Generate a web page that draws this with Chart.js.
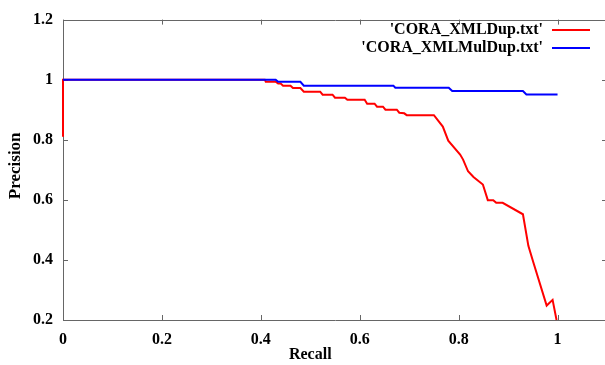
<!DOCTYPE html>
<html>
<head>
<meta charset="utf-8">
<script src="https://cdn.jsdelivr.net/npm/chart.js@4"></script>
<style>
  html, body { margin: 0; padding: 0; background: #fff; overflow: hidden; }
  #wrap { width: 607px; height: 365px; }
</style>
</head>
<body>
<div id="wrap"><canvas id="chart"></canvas></div>
<script>
// curva PR de cada archivo (recall, precision)
var seriesNames = ["'CORA_XMLDup.txt'", "'CORA_XMLMulDup.txt'"];

var recallDup = [0, 0, 0.408, 0.41, 0.43, 0.435, 0.44, 0.445, 0.46, 0.465, 0.48, 0.487, 0.52, 0.525,
    0.545, 0.55, 0.57, 0.575, 0.61, 0.615, 0.63, 0.635, 0.647, 0.652, 0.675, 0.68, 0.69, 0.695,
    0.75, 0.768, 0.779, 0.803, 0.809, 0.819, 0.83, 0.849, 0.859, 0.87, 0.876, 0.889, 0.93,
    0.941, 0.951, 0.978, 0.99, 0.998];
var precisionDup = [0.81, 1, 1, 0.993, 0.993, 0.987, 0.987, 0.98, 0.98, 0.972, 0.972, 0.96, 0.96, 0.95,
    0.95, 0.94, 0.94, 0.933, 0.933, 0.92, 0.92, 0.91, 0.91, 0.9, 0.9, 0.89, 0.888, 0.882,
    0.882, 0.844, 0.797, 0.751, 0.734, 0.695, 0.676, 0.651, 0.599, 0.599, 0.59, 0.59, 0.552,
    0.447, 0.392, 0.248, 0.267, 0.2];

var recallMulDup = [0, 0.43, 0.435, 0.48, 0.487, 0.668, 0.672, 0.78, 0.787, 0.93, 0.937, 1.0];
var precisionMulDup = [1, 1, 0.993, 0.993, 0.98, 0.98, 0.973, 0.973, 0.962, 0.962, 0.951, 0.951];

var xTicks = [0, 0.2, 0.4, 0.6, 0.8, 1];
var xTickLabels = ['0', '0.2', '0.4', '0.6', '0.8', '1'];
var yTicks = [0.2, 0.4, 0.6, 0.8, 1, 1.2];
var yTickLabels = ['0.2', '0.4', '0.6', '0.8', '1', '1.2'];

var colores = ['#ff0000', '#0000ff'];
var fuente = '"Liberation Serif", "Times New Roman", serif';

function puntos(xs, ys) {
    var r = [];
    for (var i = 0; i < xs.length; i++) r.push({ x: xs[i], y: ys[i] });
    return r;
}

// marco y marcas hacia adentro (debajo de las curvas)
var marcoGnuplot = {
    id: 'marcoGnuplot',
    beforeDatasetsDraw: function(chart) {
        var ctx = chart.ctx;
        var a = chart.chartArea;
        var sx = chart.scales.x, sy = chart.scales.y;
        ctx.save();
        ctx.strokeStyle = '#666666';
        ctx.lineWidth = 1;
        ctx.beginPath();
        ctx.rect(Math.round(a.left) + 0.5, Math.round(a.top) + 0.5,
                 Math.round(a.right - a.left), Math.round(a.bottom - a.top));
        xTicks.forEach(function(v) {
            var px = Math.round(sx.getPixelForValue(v)) + 0.5;
            ctx.moveTo(px, a.bottom); ctx.lineTo(px, a.bottom - 5);
            ctx.moveTo(px, a.top); ctx.lineTo(px, a.top + 5);
        });
        yTicks.forEach(function(v) {
            var py = Math.round(sy.getPixelForValue(v)) + 0.5;
            ctx.moveTo(a.left, py); ctx.lineTo(a.left + 5, py);
            ctx.moveTo(a.right, py); ctx.lineTo(a.right - 5, py);
        });
        ctx.stroke();
        ctx.restore();
    },
    // titulos de ejes y leyenda
    afterDraw: function(chart) {
        var ctx = chart.ctx;
        var a = chart.chartArea;
        var sx = chart.scales.x;
        ctx.save();
        ctx.fillStyle = '#000';
        ctx.font = 'bold 16px ' + fuente;
        ctx.textAlign = 'center';
        ctx.textBaseline = 'middle';
        ctx.fillText('Recall', sx.getPixelForValue(0.5), 355);
        ctx.save();
        ctx.translate(16, (a.top + a.bottom) / 2 - 4);
        ctx.rotate(-Math.PI / 2);
        ctx.font = 'bold 17px ' + fuente;
        ctx.fillText('Precision', 0, 0);
        ctx.restore();

        ctx.textAlign = 'right';
        for (var i = 0; i < seriesNames.length; i++) {
            var y = 30 + i * 18;
            ctx.fillStyle = '#000';
            ctx.fillText(seriesNames[i], 543, y);
            ctx.strokeStyle = colores[i];
            ctx.lineWidth = 2;
            ctx.beginPath();
            ctx.moveTo(552, y); ctx.lineTo(590, y);
            ctx.stroke();
        }
        ctx.restore();
    }
};

var ctx = document.getElementById('chart').getContext('2d');
var myChart = new Chart(ctx, {
    type: 'line',
    data: {
        datasets: [{
            label: seriesNames[0],
            data: puntos(recallDup, precisionDup),
            borderColor: colores[0],
            borderWidth: 2,
            pointRadius: 0,
            tension: 0,
            fill: false,
            clip: false,
            order: 1
        }, {
            label: seriesNames[1],
            data: puntos(recallMulDup, precisionMulDup),
            borderColor: colores[1],
            borderWidth: 2,
            pointRadius: 0,
            tension: 0,
            fill: false,
            clip: false,
            order: 0
        }]
    },
    options: {
        responsive: true,
        maintainAspectRatio: false,
        animation: false,
        layout: { padding: { top: 18, right: 0, bottom: 0, left: 0 } },
        plugins: {
            legend: { display: false },
            tooltip: { enabled: false }
        },
        scales: {
            x: {
                type: 'linear',
                min: 0,
                max: 1.1,
                grid: { display: false, drawTicks: false },
                border: { display: false },
                afterBuildTicks: function(s) { s.ticks = xTicks.map(function(v) { return { value: v }; }); },
                afterFit: function(s) { s.height = 45; },
                ticks: {
                    padding: 10,
                    color: '#000',
                    font: { family: fuente, size: 16, weight: 'bold' },
                    maxRotation: 0,
                    callback: function(v) { return xTickLabels[xTicks.indexOf(v)]; }
                }
            },
            y: {
                min: 0.2,
                max: 1.2,
                grid: { display: false, drawTicks: false },
                border: { display: false },
                afterBuildTicks: function(s) { s.ticks = yTicks.map(function(v) { return { value: v }; }); },
                afterFit: function(s) { s.width = 63; },
                ticks: {
                    padding: 10,
                    color: '#000',
                    font: { family: fuente, size: 16, weight: 'bold' },
                    callback: function(v) { return yTickLabels[yTicks.indexOf(v)]; }
                }
            }
        }
    },
    plugins: [marcoGnuplot]
});
</script>
</body>
</html>
